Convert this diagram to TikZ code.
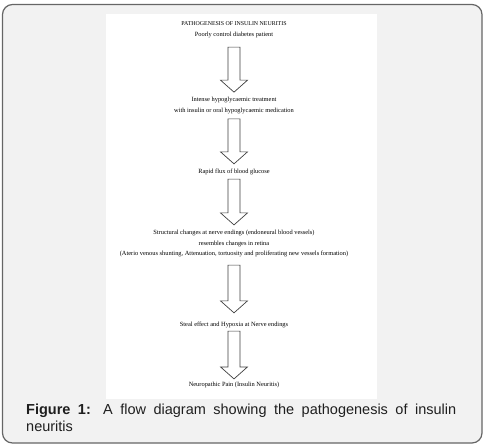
\documentclass[tikz,border=0pt]{standalone}
\usepackage{fontspec}
\setmainfont{Liberation Serif}
\newfontfamily\captionfont{Liberation Sans}
\usetikzlibrary{calc}
\hyphenpenalty=10000

\tikzset{
  flowtext/.style={font=\fontsize{6.4}{10.5}\selectfont, align=center, inner sep=0pt},
  titletext/.style={font=\fontsize{5.9}{7}\selectfont, inner sep=0pt},
  flowarrow/.style={draw=black!75, fill=white, line width=0.7pt, line join=miter},
  captiontext/.style={font=\captionfont\fontsize{14.5}{16.5}\selectfont,
    text=black!88, text width=430pt, align=justify, inner sep=0pt},
}

% hollow block arrow from one text to the next
\newcommand{\blockarrow}[4]{%
  \draw[flowarrow] let \p1=($(#1.south)+(0,#3)$), \p2=($(#2.north)+(0,-#4)$) in
    (\x1-6pt,\y1) -- (\x1+6pt,\y1) -- (\x1+6pt,\y2+12pt) -- (\x1+13.5pt,\y2+12pt)
    -- (\x1,\y2) -- (\x1-13.5pt,\y2+12pt) -- (\x1-6pt,\y2+12pt) -- cycle;}

\begin{document}
\begin{tikzpicture}[x=1pt,y=-1pt]
  \useasboundingbox (0,0) rectangle (484,447);
  % frame and page
  \draw[draw=black!60, fill=black!5, line width=1.2pt, rounded corners=10pt]
    (2.5,4.5) rectangle (482,443);
  \fill[white] (106,14) rectangle (377,399);

  % flow texts
  \node[titletext] (title) at (234,24) {PATHOGENESIS OF INSULIN NEURITIS};
  \node[flowtext] (patient) at (234,35) {Poorly control diabetes patient};
  \node[flowtext] (treatment) at (234,105.5) {Intense hypoglycaemic treatment\\with insulin or oral hypoglycaemic medication};
  \node[flowtext] (flux) at (234,172) {Rapid flux of blood glucose};
  \node[flowtext] (changes) at (234,243.5) {Structural changes at nerve endings (endoneural blood vessels)\\resembles changes in retina\\(Aterio venous shunting, Attenuation, tortuosity and proliferating new vessels formation)};
  \node[flowtext] (steal) at (234,325) {Steal effect and Hypoxia at Nerve endings};
  \node[flowtext] (pain) at (234,385) {Neuropathic Pain (Insulin Neuritis)};

  % arrows
  \blockarrow{patient}{treatment}{9}{5}
  \blockarrow{treatment}{flux}{5}{5}
  \blockarrow{flux}{changes}{4}{5}
  \blockarrow{changes}{steal}{8}{9}
  \blockarrow{steal}{pain}{3}{3}

  % caption
  \node[captiontext, anchor=north west] (caption) at (26,404)
    {\textbf{Figure 1:} A flow diagram showing the pathogenesis of insulin neuritis};
\end{tikzpicture}
\end{document}
